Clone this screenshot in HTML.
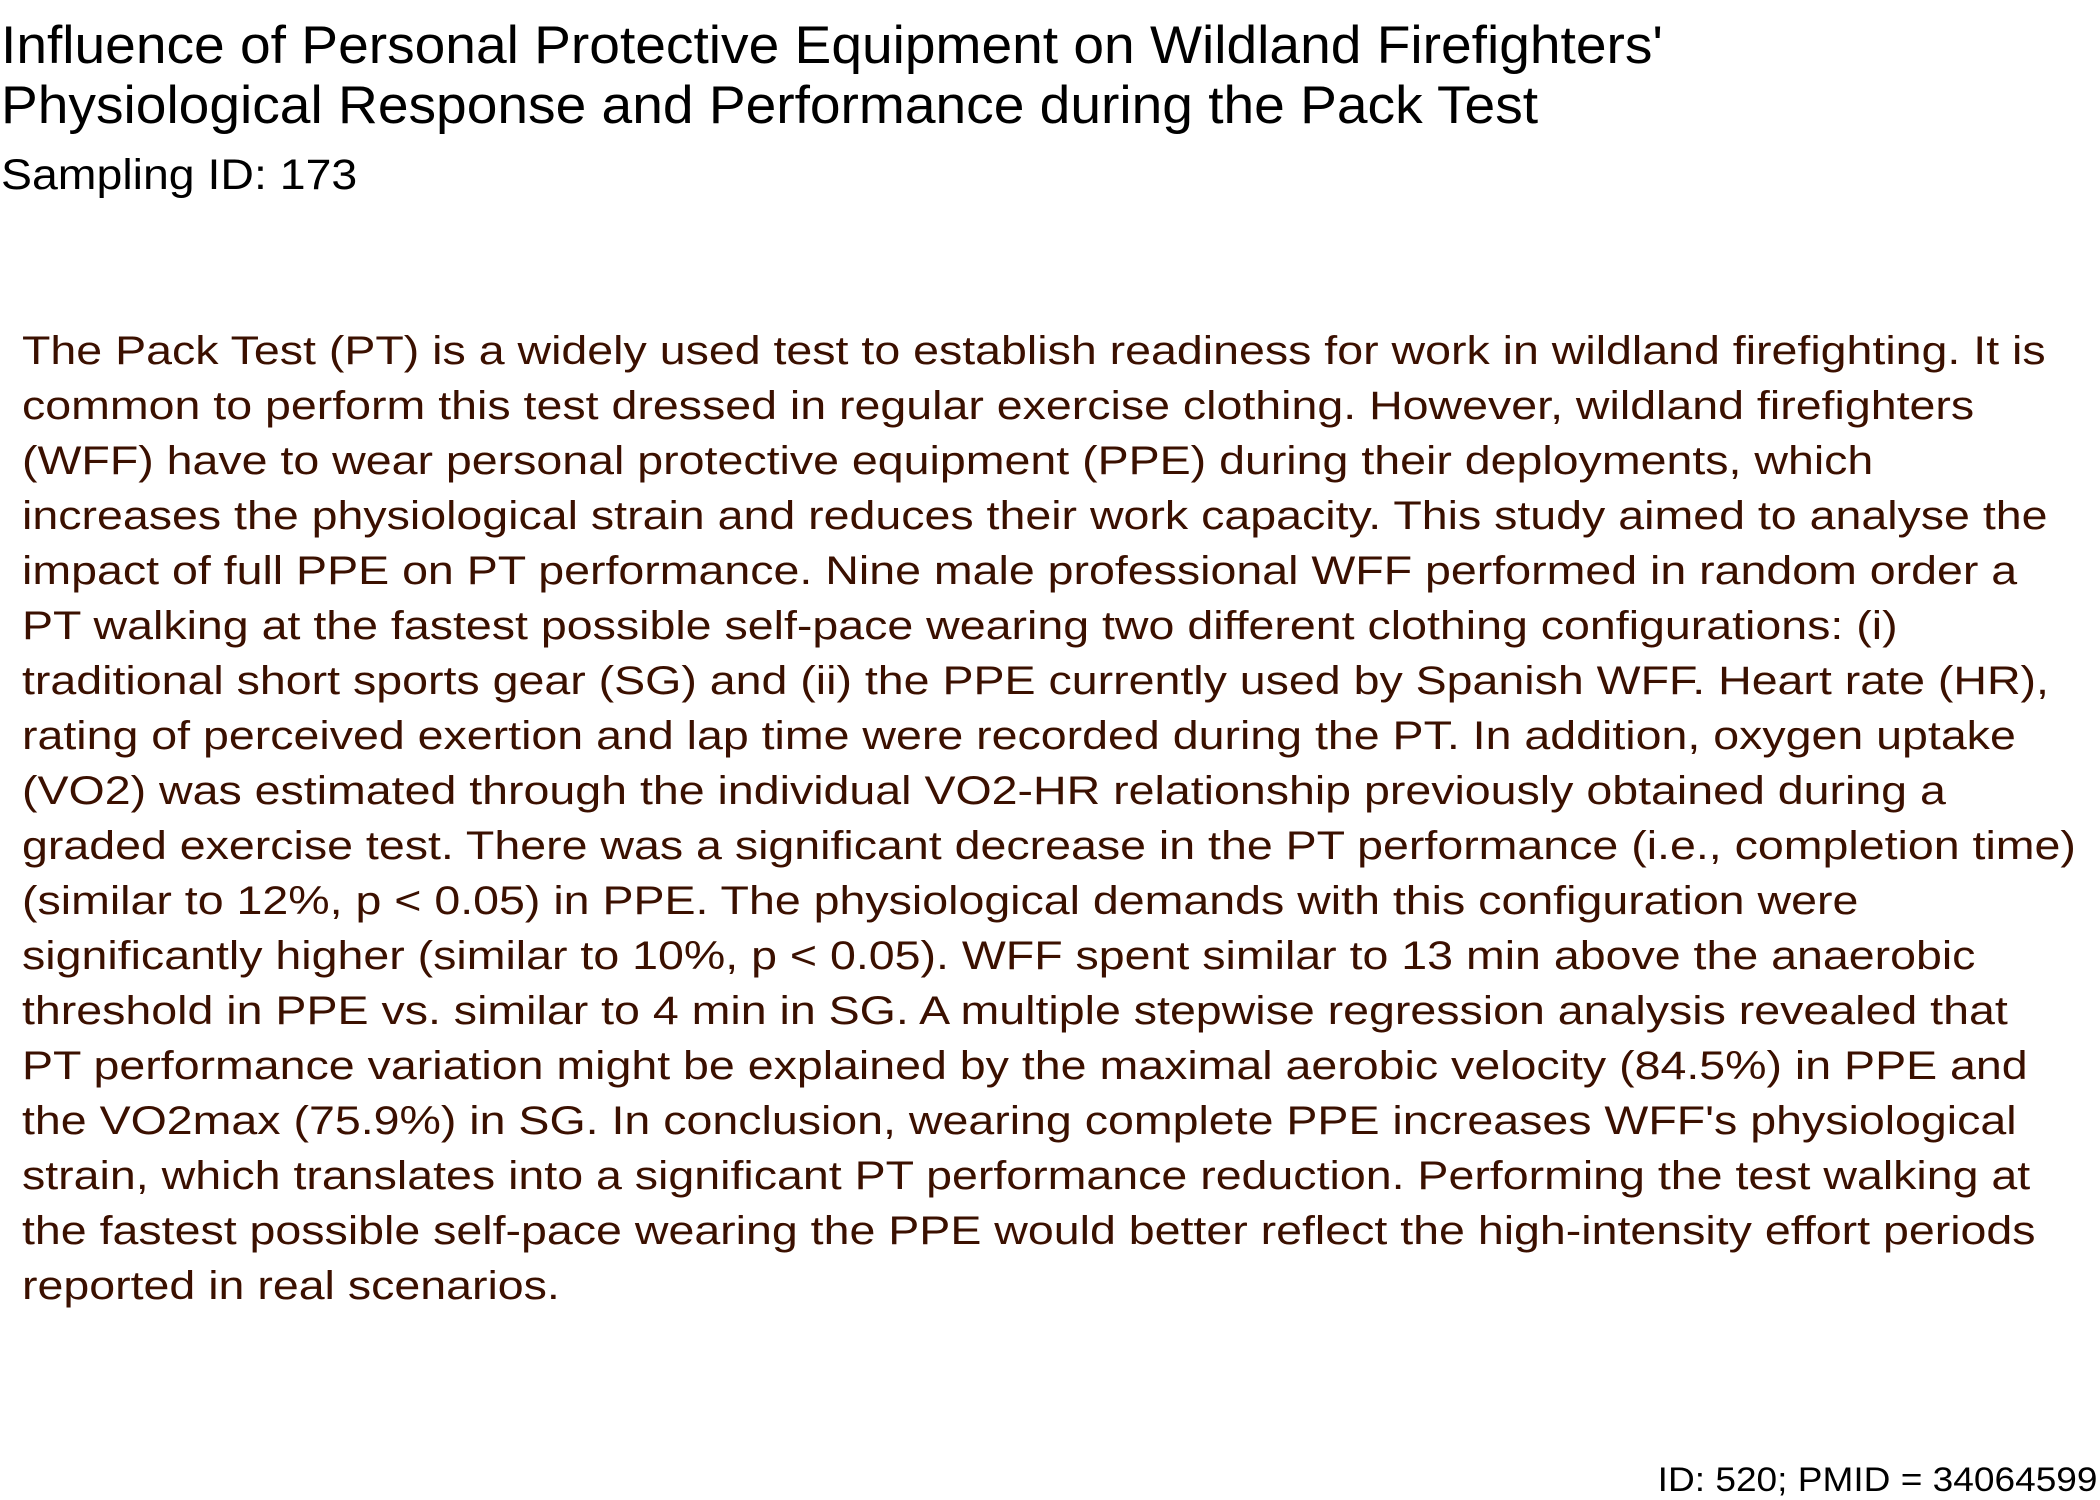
<!DOCTYPE html>
<html><head><meta charset="utf-8"><style>
html,body{margin:0;padding:0;background:#fff;width:2100px;height:1500px;overflow:hidden;position:relative;font-family:"Liberation Sans",Arial,sans-serif}
.t{position:absolute;left:1px;font-size:53px;color:#000;white-space:nowrap;line-height:1;transform:scaleX(1.04);transform-origin:0 0}
.s{position:absolute;left:1px;font-size:43px;color:#000;white-space:nowrap;line-height:1;transform:scaleX(1.08);transform-origin:0 0}
.b{position:absolute;left:22px;font-size:40px;color:#3b1000;white-space:nowrap;line-height:1;transform:scaleX(1.163);transform-origin:0 0}
.f{position:absolute;right:2px;font-size:34px;color:#000;white-space:nowrap;line-height:1;transform:scaleX(1.09);transform-origin:100% 0}
</style></head><body>
<div>
<div class="t" style="top:19px">Influence of Personal Protective Equipment on Wildland Firefighters'</div>
<div class="t" style="top:79px">Physiological Response and Performance during the Pack Test</div>
</div>
<div class="s" style="top:154px">Sampling ID: 173</div>
<div>
<div class="b" style="top:331px">The Pack Test (PT) is a widely used test to establish readiness for work in wildland firefighting. It is</div>
<div class="b" style="top:386px">common to perform this test dressed in regular exercise clothing. However, wildland firefighters</div>
<div class="b" style="top:441px">(WFF) have to wear personal protective equipment (PPE) during their deployments, which</div>
<div class="b" style="top:496px">increases the physiological strain and reduces their work capacity. This study aimed to analyse the</div>
<div class="b" style="top:551px">impact of full PPE on PT performance. Nine male professional WFF performed in random order a</div>
<div class="b" style="top:606px">PT walking at the fastest possible self-pace wearing two different clothing configurations: (i)</div>
<div class="b" style="top:661px">traditional short sports gear (SG) and (ii) the PPE currently used by Spanish WFF. Heart rate (HR),</div>
<div class="b" style="top:716px">rating of perceived exertion and lap time were recorded during the PT. In addition, oxygen uptake</div>
<div class="b" style="top:771px">(VO2) was estimated through the individual VO2-HR relationship previously obtained during a</div>
<div class="b" style="top:826px">graded exercise test. There was a significant decrease in the PT performance (i.e., completion time)</div>
<div class="b" style="top:881px">(similar to 12%, p &lt; 0.05) in PPE. The physiological demands with this configuration were</div>
<div class="b" style="top:936px">significantly higher (similar to 10%, p &lt; 0.05). WFF spent similar to 13 min above the anaerobic</div>
<div class="b" style="top:991px">threshold in PPE vs. similar to 4 min in SG. A multiple stepwise regression analysis revealed that</div>
<div class="b" style="top:1046px">PT performance variation might be explained by the maximal aerobic velocity (84.5%) in PPE and</div>
<div class="b" style="top:1101px">the VO2max (75.9%) in SG. In conclusion, wearing complete PPE increases WFF's physiological</div>
<div class="b" style="top:1156px">strain, which translates into a significant PT performance reduction. Performing the test walking at</div>
<div class="b" style="top:1211px">the fastest possible self-pace wearing the PPE would better reflect the high-intensity effort periods</div>
<div class="b" style="top:1266px">reported in real scenarios.</div>
</div>
<div class="f" style="top:1463px">ID: 520; PMID = 34064599</div>
</body></html>
